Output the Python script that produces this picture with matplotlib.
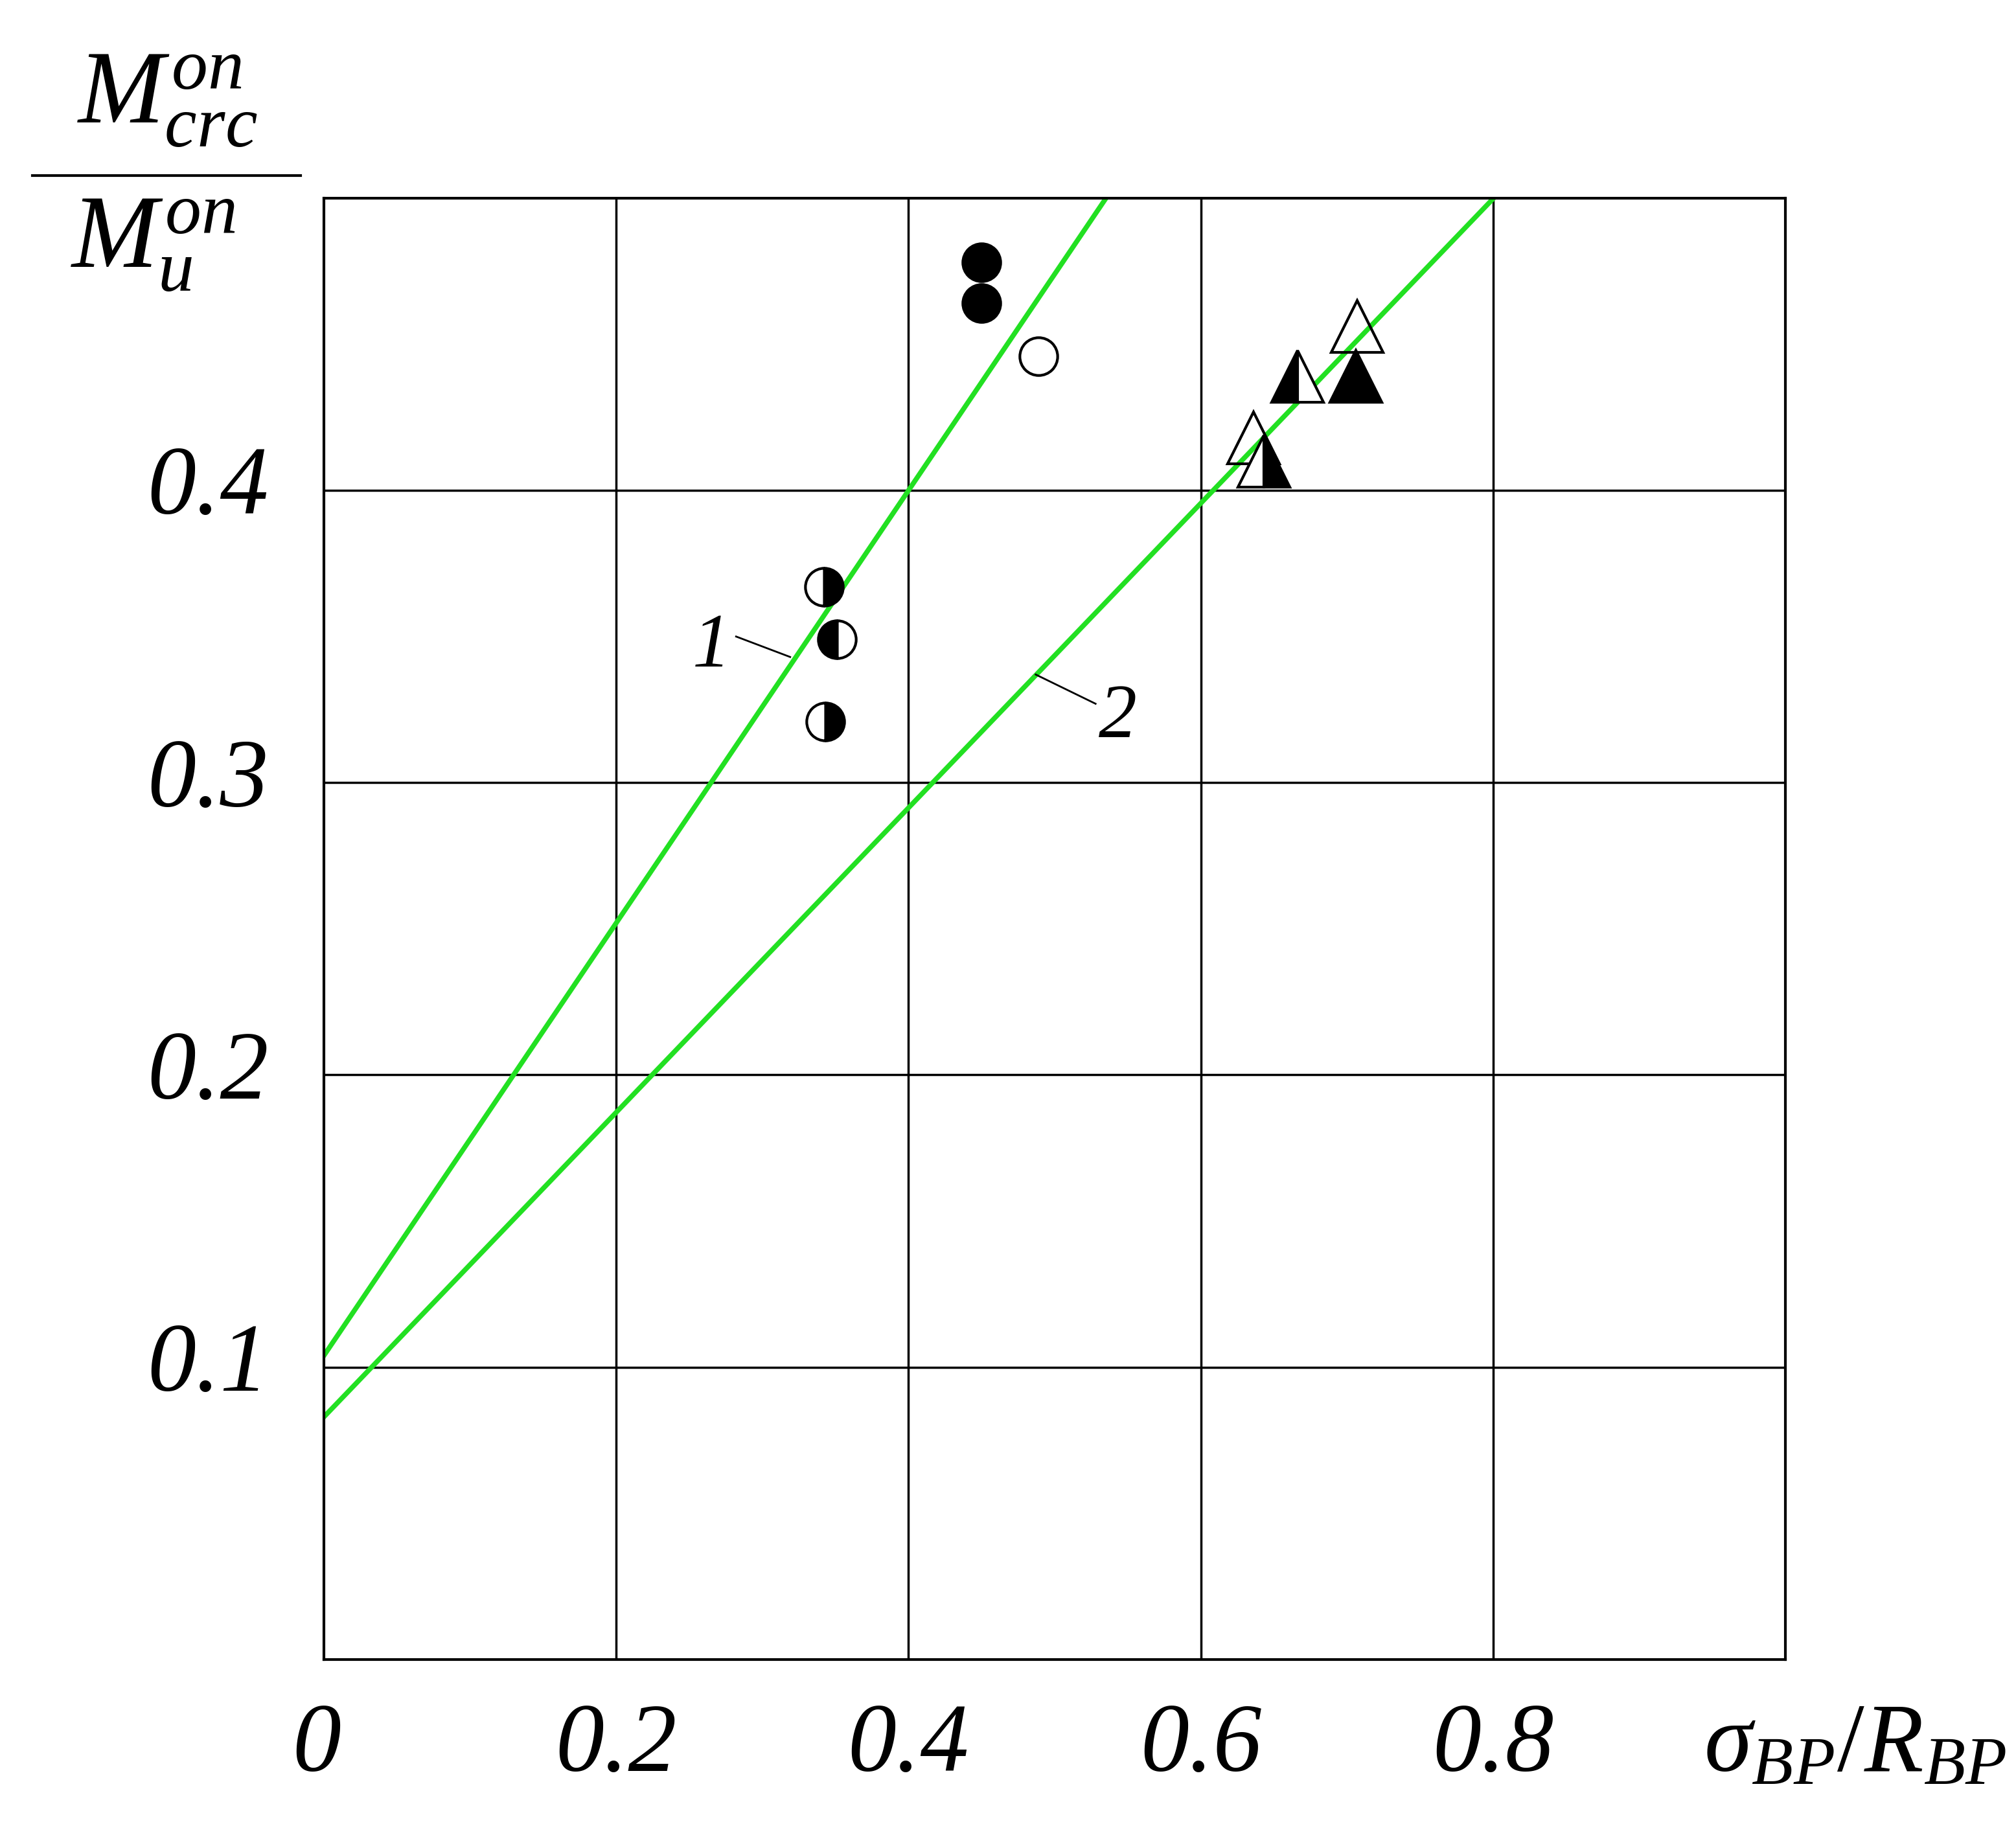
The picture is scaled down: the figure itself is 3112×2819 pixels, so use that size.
import matplotlib.pyplot as plt
from matplotlib.lines import Line2D

# Data
line1 = [0.104, 0.74]   # intercept, slope
line2 = [0.083, 0.521]
full_circ_x = [0.450, 0.450]
full_circ_y = [0.478, 0.464]
open_circ_x = [0.489]
open_circ_y = [0.446]
half_circ_x = [0.342, 0.351, 0.343]
half_circ_y = [0.367, 0.349, 0.321]
half_circ_side = ['right', 'left', 'right']
tri_x = [0.707, 0.706, 0.666, 0.636, 0.643]
tri_y = [0.456, 0.439, 0.439, 0.418, 0.410]
tri_fill = ['none', 'full', 'left', 'none', 'right']
xticks = [0.2, 0.4, 0.6, 0.8]
yticks = [0.1, 0.2, 0.3, 0.4]

plt.rcParams['font.family'] = ['Liberation Serif', 'DejaVu Serif']
plt.rcParams['mathtext.fontset'] = 'custom'
plt.rcParams['mathtext.it'] = 'Liberation Serif:italic'
plt.rcParams['mathtext.rm'] = 'Liberation Serif'

fig = plt.figure(figsize=(31.12, 28.19), dpi=100)
ax = fig.add_axes([0.1607, 0.0912, 0.7249, 0.8003])
ax.set_xlim(0, 1.0)
ax.set_ylim(0, 0.5)
for v in [0.2, 0.4, 0.6, 0.8]:
    ax.axvline(v, color='black', lw=2.5, zorder=1)
for v in yticks:
    ax.axhline(v, color='black', lw=2.5, zorder=1)
for s in ax.spines.values():
    s.set_linewidth(3)
ax.set_xticks([])
ax.set_yticks([])

g = '#22e022'
for b, k in [line1, line2]:
    ax.plot([0, 1], [b, b + k], color=g, lw=5.5, zorder=2, clip_on=True)

ax.plot(full_circ_x, full_circ_y, 'o', ms=42, mfc='black', mec='black', mew=3, zorder=3)
ax.plot(open_circ_x, open_circ_y, 'o', ms=42, mfc='white', mec='black', mew=3, zorder=3)
for x, y, side in zip(half_circ_x, half_circ_y, half_circ_side):
    ax.plot(x, y, 'o', ms=42, fillstyle=side, mfc='black', mfcalt='white', mec='black', mew=3, zorder=3)
for x, y, f in zip(tri_x, tri_y, tri_fill):
    if f == 'none':
        ax.plot(x, y, '^', ms=58, mfc='none', mec='black', mew=3, zorder=3)
    else:
        ax.plot(x, y, '^', ms=58, fillstyle=f, mfc='black', mfcalt='white', mec='black', mew=3, zorder=3)

fs = 108
# tick labels
ax.text(-0.005, -0.03, '0', ha='center', va='center', fontsize=fs, style='italic')
for v in xticks:
    ax.text(v, -0.03, str(v), ha='center', va='center', fontsize=fs, style='italic')
for v in yticks:
    ax.text(-0.038, v, str(v), ha='right', va='center', fontsize=fs, style='italic')

fig.text(0.995, 0.043, r'$\sigma_{BP}/R_{BP}$', ha='right', va='center', fontsize=fs)

# y label as fraction
fig.text(0.083, 0.945, r'$M^{on}_{crc}$', ha='center', va='center', fontsize=115)
fig.add_artist(Line2D([0.016, 0.149], [0.904, 0.904], color='black', lw=3))
fig.text(0.076, 0.866, r'$M^{on}_{u}$', ha='center', va='center', fontsize=115)

# curve labels
ax.text(0.265, 0.346, '1', ha='center', va='center', fontsize=85, style='italic')
ax.plot([0.282, 0.319], [0.350, 0.343], color='black', lw=2)
ax.text(0.543, 0.322, '2', ha='center', va='center', fontsize=85, style='italic')
ax.plot([0.487, 0.528], [0.337, 0.327], color='black', lw=2)

fig.savefig('out.png')
